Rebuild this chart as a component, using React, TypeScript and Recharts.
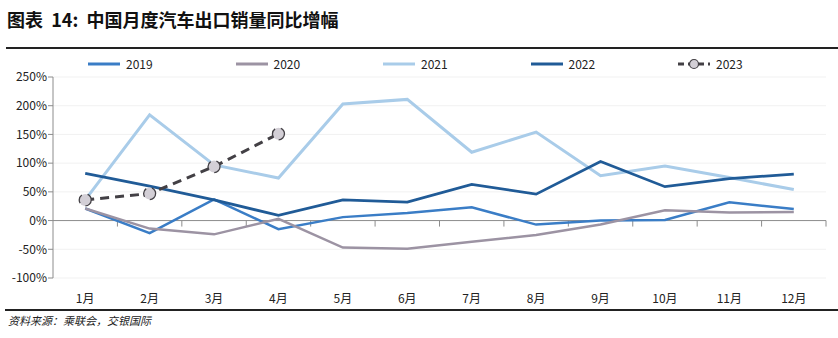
import { CartesianGrid, Line, LineChart, ReferenceLine, XAxis, YAxis } from 'recharts';

const months = ['1月', '2月', '3月', '4月', '5月', '6月', '7月', '8月', '9月', '10月', '11月', '12月'];
const y2019 = [21, -22, 37, -15, 6, 13, 23, -7, 0, 1, 32, 20];
const y2020 = [21, -14, -24, 3, -47, -49, -37, -25, -7, 18, 14, 15];
const y2021 = [36, 184, 97, 74, 203, 211, 119, 154, 78, 95, 75, 54];
const y2022 = [82, 60, 36, 9, 36, 32, 63, 46, 103, 59, 73, 81];
const y2023 = [36, 47, 94, 151];
const yTicks = [-100, -50, 0, 50, 100, 150, 200, 250];

const data = months.map((m, i) => ({
  month: m,
  '2019': y2019[i],
  '2020': y2020[i],
  '2021': y2021[i],
  '2022': y2022[i],
  '2023': i < y2023.length ? y2023[i] : null,
}));

const series = [
  { key: '2019', color: '#3a7dc6', width: 2.5 },
  { key: '2020', color: '#9c93a3', width: 2.5 },
  { key: '2021', color: '#a9cce9', width: 3 },
  { key: '2022', color: '#205b97', width: 2.8 },
];

const font = '"Noto Sans CJK SC", "Noto Sans", sans-serif';

const ZeroAxis = (props: any) => {
  const { x1, y1, x2 } = props;
  const step = (x2 - x1) / months.length;
  return (
    <g>
      <line x1={x1} y1={y1} x2={x2} y2={y1} stroke='#8c8c8c' strokeWidth={1} />
      {months.map((_, i) => (
        <line
          key={i}
          x1={x1 + step * (i + 1)}
          x2={x1 + step * (i + 1)}
          y1={y1}
          y2={y1 + 6}
          stroke='#8c8c8c'
        />
      ))}
    </g>
  );
};

const LegendRow = () => {
  const items = [...series.map((s) => s.key), '2023'];
  return (
    <div style={{ position: 'absolute', left: 0, top: 55, width: 838, height: 16, fontSize: 12, color: '#222' }}>
      {items.map((k, i) => {
        const s = series.find((x) => x.key === k);
        return (
          <div
            key={k}
            style={{ position: 'absolute', left: 88 + i * 147.5, top: 0, display: 'flex', alignItems: 'center' }}>
            <svg width={32} height={12}>
              {s ? (
                <line x1={0} x2={32} y1={6} y2={6} stroke={s.color} strokeWidth={3} />
              ) : (
                <g>
                  <line x1={0} x2={32} y1={6} y2={6} stroke='#434045' strokeWidth={3} strokeDasharray='6 4' />
                  <circle cx={16} cy={6} r={4.5} fill='#d3cfd6' stroke='#434045' strokeWidth={1.2} />
                </g>
              )}
            </svg>
            <span style={{ marginLeft: 6 }}>{k}</span>
          </div>
        );
      })}
    </div>
  );
};

export default function App() {
  return (
    <div
      style={{
        position: 'absolute',
        left: 0,
        top: 0,
        width: 838,
        height: 338,
        background: '#fff',
        overflow: 'hidden',
        fontFamily: font,
      }}>
      <div style={{ position: 'absolute', left: 7, top: 6, fontSize: 18, fontWeight: 700, color: '#111', whiteSpace: 'pre' }}>
        图表  14:  中国月度汽车出口销量同比增幅
      </div>
      <div style={{ position: 'absolute', left: 6, right: 0, top: 47, height: 1.5, background: '#222' }} />
      <LegendRow />
      <LineChart
        width={838}
        height={338}
        data={data}
        margin={{ top: 77, right: 12, left: 0, bottom: 30 }}
        style={{ position: 'absolute', left: 0, top: 0 }}>
        <CartesianGrid vertical={false} stroke='#f1f1f1' />
        <XAxis
          dataKey='month'
          scale='band'
          axisLine={false}
          tickLine={false}
          tickMargin={10}
          tick={{ fontSize: 12, fill: '#222' }}
          height={30}
        />
        <YAxis
          domain={[-100, 250]}
          ticks={yTicks}
          width={53}
          interval={0}
          tickFormatter={(v) => `${v}%`}
          tickSize={5}
          tickMargin={1}
          axisLine={{ stroke: '#8c8c8c' }}
          tickLine={{ stroke: '#8c8c8c' }}
          tick={{ fontSize: 12, fill: '#222' }}
        />
        <ReferenceLine y={0} shape={<ZeroAxis />} />
        {series.map((s) => (
          <Line
            key={s.key}
            dataKey={s.key}
            stroke={s.color}
            strokeWidth={s.width}
            dot={false}
            isAnimationActive={false}
            type='linear'
          />
        ))}
        <Line
          dataKey='2023'
          stroke='#434045'
          strokeWidth={3}
          strokeDasharray='9 6'
          dot={{ r: 6, fill: '#d3cfd6', stroke: '#434045', strokeWidth: 1.3 }}
          isAnimationActive={false}
          connectNulls={false}
          type='linear'
        />
      </LineChart>
      <div style={{ position: 'absolute', left: 5, right: 0, top: 309, height: 2, background: '#222' }} />
      <div style={{ position: 'absolute', left: 8, top: 312, fontSize: 11, fontStyle: 'italic', color: '#222' }}>
        资料来源：乘联会，交银国际
      </div>
    </div>
  );
}
